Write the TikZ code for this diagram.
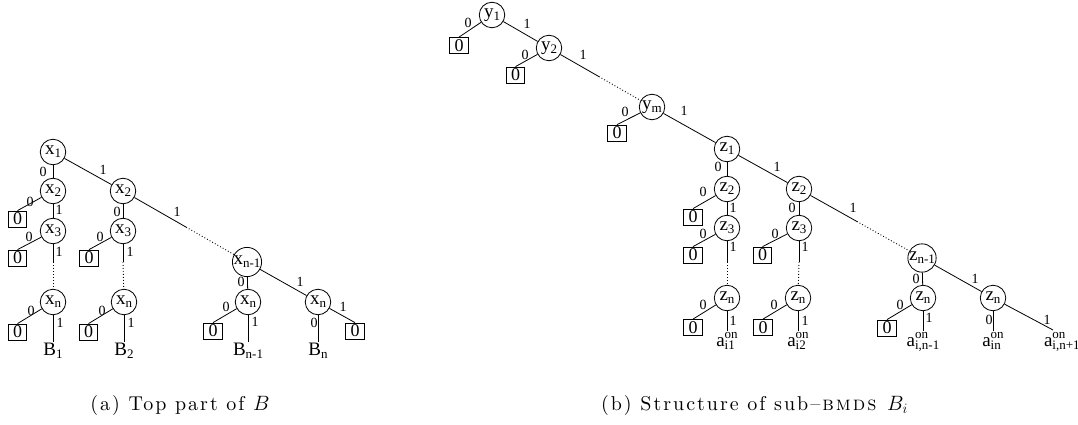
\documentclass[tikz,border=0pt]{standalone}
\usepackage{fontspec}
\newfontfamily\tm{Liberation Serif}
\newfontfamily\capfam{lmroman10-regular.otf}[SmallCapsFont=lmromancaps10-regular.otf, LetterSpace=10, Ligatures=TeX]
\newcommand\nodefont{\tm\fontsize{19}{19}\selectfont}
\newcommand\boxfont{\tm\fontsize{18}{18}\selectfont}
\newcommand\lblfont{\tm\fontsize{14}{14}\selectfont}
\newcommand\capfont{\capfam\fontsize{20}{20}\selectfont}
\newcommand\sbs[1]{\raisebox{-3pt}{\fontsize{13}{13}\selectfont #1}}
\newcommand\supsub[2]{{\fontsize{13}{13}\selectfont\setbox0\hbox{#1}\setbox2\hbox{#2}%
  \ifdim\wd0>\wd2 \dimen0=\wd0 \else \dimen0=\wd2 \fi
  \makebox[\dimen0][l]{\rlap{\raisebox{8.5pt}{\copy0}}\raisebox{-3pt}{\copy2}}}}
\newcommand\elab[3]{\node[lbl] (#1) at (#2) {#3};}
\tikzset{
  var/.style={circle, draw, line width=0.8pt, minimum size=25.5pt, inner sep=0pt, font=\nodefont},
  term/.style={draw, line width=0.8pt, minimum width=18.5pt, minimum height=16pt, inner sep=0pt, font=\boxfont},
  lbl/.style={font=\lblfont, inner sep=0pt},
  leaf/.style={font=\nodefont, inner sep=0pt, outer sep=1pt, anchor=north},
  conn/.style={line width=0.8pt},
  dots/.style={line width=0.9pt, dash pattern=on 0.9pt off 2.1pt},
}
\begin{document}
\begin{tikzpicture}[x=1pt, y=-1pt]
\useasboundingbox (0,0) rectangle (1078,425);
% ---------------- left tree ----------------
\node[var] (x1) at (53,152) {x\sbs{1}};
\node[var] (x2a) at (53,191) {x\sbs{2}};
\node[var] (x3a) at (53,231) {x\sbs{3}};
\node[var] (xna) at (53,302) {x\sbs{n}};
\node[term] (b2a) at (17.5,219) {0};
\node[term] (b3a) at (17.5,258) {0};
\node[term] (bna) at (17.5,332) {0};
\node[leaf] (Ba) at (53,342) {B\sbs{1}};
\node[var] (x2b) at (123,191) {x\sbs{2}};
\node[var] (x3b) at (123,231) {x\sbs{3}};
\node[var] (xnb) at (124,302) {x\sbs{n}};
\node[term] (b3b) at (89,258) {0};
\node[term] (bnb) at (88.5,332) {0};
\node[leaf] (Bb) at (124,342) {B\sbs{2}};
\node[var] (xn1) at (247,262) {x\sbs{n-1}};
\node[var] (xnc) at (248,302) {x\sbs{n}};
\node[term] (bnc) at (213,331) {0};
\node[leaf] (Bc) at (248,342) {B\sbs{n-1}};
\node[var] (xnd) at (318,302) {x\sbs{n}};
\node[term] (bnd) at (355,331) {0};
\node[leaf] (Bd) at (318,342) {B\sbs{n}};
\coordinate (ma) at (53,262);
\coordinate (mb) at (123,262);
\path (x2b) -- coordinate[pos=0.52] (mc) (xn1);

\draw[conn] (x1) -- (x2a);
\draw[conn] (x1) -- (x2b);
\draw[conn] (x2a) -- (b2a.north);
\draw[conn] (x2a) -- (x3a);
\draw[conn] (x3a) -- (b3a.north);
\draw[conn] (x3a) -- (ma);
\draw[dots] (ma) -- (xna);
\draw[conn] (xna) -- (bna.north);
\draw[conn] (xna) -- (Ba);
\draw[conn] (x2b) -- (x3b);
\draw[conn] (x3b) -- (b3b.north);
\draw[conn] (x3b) -- (mb);
\draw[dots] (mb) -- (xnb);
\draw[conn] (xnb) -- (bnb.north);
\draw[conn] (xnb) -- (Bb);
\draw[conn] (x2b) -- (mc);
\draw[dots] (mc) -- (xn1);
\draw[conn] (xn1) -- (xnc);
\draw[conn] (xn1) -- (xnd);
\draw[conn] (xnc) -- (bnc.north);
\draw[conn] (xnc) -- (Bc);
\draw[conn] (xnd) -- (Bd);
\draw[conn] (xnd) -- (bnd.north);

\elab{l1}{43,172}{0}
\elab{l2}{103,170}{1}
\elab{l3}{30,202}{0}
\elab{l4}{59,210}{1}
\elab{l5}{29,237}{0}
\elab{l6}{59,252}{1}
\elab{l7}{117,212}{0}
\elab{l8}{177,212}{1}
\elab{l9}{100,237}{0}
\elab{l10}{130,252}{1}
\elab{l11}{31,311}{0}
\elab{l12}{60,323}{1}
\elab{l13}{102,311}{0}
\elab{l14}{131,323}{1}
\elab{l15}{241,282}{0}
\elab{l16}{300,282}{1}
\elab{l17}{226,307}{0}
\elab{l18}{255,322}{1}
\elab{l19}{314,323}{0}
\elab{l20}{343,307}{1}

% ---------------- right tree ----------------
\node[var] (y1) at (492,15) {y\sbs{1}};
\node[term] (by1) at (459,45.5) {0};
\node[var] (y2) at (549,48) {y\sbs{2}};
\node[term] (by2) at (515.5,75) {0};
\node[var] (ym) at (652,107) {y\sbs{m}};
\node[term] (bym) at (617,133) {0};
\node[var] (z1) at (727,149) {z\sbs{1}};
\node[var] (z2a) at (727,189) {z\sbs{2}};
\node[term] (bz2a) at (693,217) {0};
\node[var] (z3a) at (727,228) {z\sbs{3}};
\node[term] (bz3a) at (693,255) {0};
\node[var] (zna) at (727,298) {z\sbs{n}};
\node[term] (bzna) at (693,327.5) {0};
\node[leaf] (a1) at (727,331) {a\supsub{on}{i1}};
\node[var] (z2b) at (799,189) {z\sbs{2}};
\node[var] (z3b) at (799,228) {z\sbs{3}};
\node[term] (bz3b) at (762.5,255) {0};
\node[var] (znb) at (798,298) {z\sbs{n}};
\node[term] (bznb) at (763,327.5) {0};
\node[leaf] (a2) at (798,331) {a\supsub{on}{i2}};
\node[var] (zn1) at (922,258) {z\sbs{n-1}};
\node[var] (znc) at (923,298) {z\sbs{n}};
\node[term] (bznc) at (887,328) {0};
\node[leaf] (a3) at (923,331) {a\supsub{on}{i,n-1}};
\node[var] (znd) at (993,298) {z\sbs{n}};
\node[leaf] (a4) at (993,331) {a\supsub{on}{in}};
\node[leaf, anchor=north west] (a5) at (1043,331) {a\supsub{on}{i,n+1}};
\coordinate (e5) at (1053,330);
\path (y2) -- coordinate[pos=0.48] (my) (ym);
\coordinate (mza) at (727,262);
\coordinate (mzb) at (799,262);
\path (z2b) -- coordinate[pos=0.47] (mzc) (zn1);

\draw[conn] (y1) -- (by1.north);
\draw[conn] (y1) -- (y2);
\draw[conn] (y2) -- (by2.north);
\draw[conn] (y2) -- (my);
\draw[dots] (my) -- (ym);
\draw[conn] (ym) -- (bym.north);
\draw[conn] (ym) -- (z1);
\draw[conn] (z1) -- (z2a);
\draw[conn] (z1) -- (z2b);
\draw[conn] (z2a) -- (bz2a.north);
\draw[conn] (z2a) -- (z3a);
\draw[conn] (z3a) -- (bz3a.north);
\draw[conn] (z3a) -- (mza);
\draw[dots] (mza) -- (zna);
\draw[conn] (zna) -- (bzna.north);
\draw[conn] (zna) -- (a1);
\draw[conn] (z2b) -- (z3b);
\draw[conn] (z3b) -- (bz3b.north);
\draw[conn] (z3b) -- (mzb);
\draw[dots] (mzb) -- (znb);
\draw[conn] (znb) -- (bznb.north);
\draw[conn] (znb) -- (a2);
\draw[conn] (z2b) -- (mzc);
\draw[dots] (mzc) -- (zn1);
\draw[conn] (zn1) -- (znc);
\draw[conn] (zn1) -- (znd);
\draw[conn] (znc) -- (bznc.north);
\draw[conn] (znc) -- (a3);
\draw[conn] (znd) -- (a4);
\draw[conn] (znd) -- (e5);

\elab{r1}{468,23}{0}
\elab{r2}{527,24}{1}
\elab{r3}{525,55}{0}
\elab{r4}{583,55}{1}
\elab{r5}{625,112}{0}
\elab{r6}{684,111}{1}
\elab{r7}{718,167}{0}
\elab{r8}{777,167}{1}
\elab{r9}{703,192}{0}
\elab{r10}{733,208}{1}
\elab{r11}{792,208}{0}
\elab{r12}{853,208}{1}
\elab{r13}{703,234}{0}
\elab{r14}{733,247}{1}
\elab{r15}{775,234}{0}
\elab{r16}{805,247}{1}
\elab{r17}{703,305}{0}
\elab{r18}{733,321}{1}
\elab{r19}{774,305}{0}
\elab{r20}{805,321}{1}
\elab{r21}{916,279}{0}
\elab{r22}{975,279}{1}
\elab{r23}{900,305}{0}
\elab{r24}{929,318}{1}
\elab{r25}{989,320}{0}
\elab{r26}{1047,320}{1}

% ---------------- captions ----------------
\node[anchor=base, font=\capfont, inner sep=0pt] (capa) at (180,410) {(a) Top part of $B$};
\node[anchor=base, font=\capfont, inner sep=0pt] (capb) at (754.5,410) {(b) Structure of sub–\textsc{bmds} $B_i$};
\end{tikzpicture}
\end{document}
